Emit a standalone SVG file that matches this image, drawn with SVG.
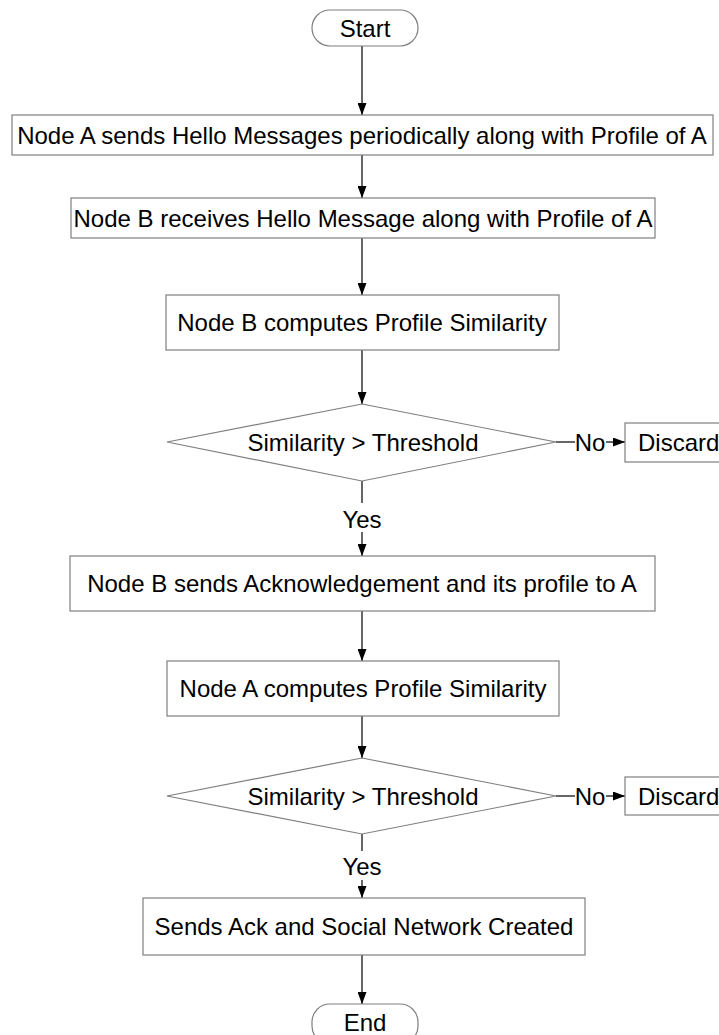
<svg xmlns="http://www.w3.org/2000/svg" width="719" height="1035" viewBox="0 0 719 1035">
<defs>
<marker id="arr" markerUnits="userSpaceOnUse" markerWidth="13" markerHeight="9" refX="12" refY="4.5" orient="auto">
<path d="M0,0 L12,4.5 L0,9 z" fill="#000"/>
</marker>
<style>
.box{fill:#fff;stroke:#7f7f7f;stroke-width:1.2}
.t{font-family:"Liberation Sans",Arial,sans-serif;font-size:24px;fill:#000;text-anchor:middle}
.ts{font-family:"Liberation Sans",Arial,sans-serif;font-size:24px;fill:#000;text-anchor:start}
.c{stroke:#333;stroke-width:1.5;fill:none}
.lb{fill:#fff;stroke:none}
</style>
</defs>
<rect width="719" height="1035" fill="#fff"/>
<g id="connectors">
<line class="c" x1="362" y1="46" x2="362" y2="115" marker-end="url(#arr)"/>
<line class="c" x1="362" y1="155" x2="362" y2="198" marker-end="url(#arr)"/>
<line class="c" x1="362" y1="238" x2="362" y2="295" marker-end="url(#arr)"/>
<line class="c" x1="362" y1="350" x2="362" y2="404" marker-end="url(#arr)"/>
<line class="c" x1="556" y1="442" x2="625" y2="442" marker-end="url(#arr)"/>
<rect class="lb" x="575" y="430" width="31" height="24"/>
<text class="t" x="590" y="451">No</text>
<line class="c" x1="362" y1="481" x2="362" y2="556" marker-end="url(#arr)"/>
<rect class="lb" x="341" y="503" width="42" height="29"/>
<text class="t" x="362" y="528">Yes</text>
<line class="c" x1="362" y1="611" x2="362" y2="661" marker-end="url(#arr)"/>
<line class="c" x1="362" y1="716" x2="362" y2="758" marker-end="url(#arr)"/>
<line class="c" x1="556" y1="796" x2="625" y2="796" marker-end="url(#arr)"/>
<rect class="lb" x="575" y="784" width="31" height="24"/>
<text class="t" x="590" y="805">No</text>
<line class="c" x1="362" y1="834" x2="362" y2="898" marker-end="url(#arr)"/>
<rect class="lb" x="341" y="851" width="42" height="29"/>
<text class="t" x="362" y="875">Yes</text>
<line class="c" x1="362" y1="955" x2="362" y2="1004" marker-end="url(#arr)"/>
</g>
<g id="start">
<rect class="box" x="312" y="10" width="106" height="36" rx="18"/>
<text class="t" x="365" y="37">Start</text>
</g>
<g id="nodeA">
<rect class="box" x="12" y="115" width="701" height="40"/>
<text class="t" x="362" y="144">Node A sends Hello Messages periodically along with Profile of A</text>
</g>
<g id="nodeB">
<rect class="box" x="71" y="198" width="584" height="40"/>
<text class="t" x="363" y="227">Node B receives Hello Message along with Profile of A</text>
</g>
<g id="computeB">
<rect class="box" x="166" y="295" width="393" height="55"/>
<text class="t" x="362" y="331">Node B computes Profile Similarity</text>
</g>
<g id="decision1">
<polygon class="box" points="362,404 556,442 362,481 167,442"/>
<text class="t" x="363" y="451">Similarity &gt; Threshold</text>
</g>
<g id="discard1">
<rect class="box" x="625" y="423" width="100" height="39"/>
<text class="ts" x="638" y="451">Discard</text>
</g>
<g id="ackB">
<rect class="box" x="70" y="556" width="585" height="55"/>
<text class="t" x="362" y="592">Node B sends Acknowledgement and its profile to A</text>
</g>
<g id="computeA">
<rect class="box" x="167" y="661" width="392" height="55"/>
<text class="t" x="363" y="697">Node A computes Profile Similarity</text>
</g>
<g id="decision2">
<polygon class="box" points="362,758 556,796 362,834 167,796"/>
<text class="t" x="363" y="805">Similarity &gt; Threshold</text>
</g>
<g id="discard2">
<rect class="box" x="625" y="777" width="100" height="38"/>
<text class="ts" x="638" y="805">Discard</text>
</g>
<g id="sendAck">
<rect class="box" x="143" y="898" width="442" height="57"/>
<text class="t" x="364" y="935">Sends Ack and Social Network Created</text>
</g>
<g id="end">
<rect class="box" x="312" y="1004" width="106" height="40" rx="18"/>
<text class="t" x="365" y="1031">End</text>
</g>
</svg>
